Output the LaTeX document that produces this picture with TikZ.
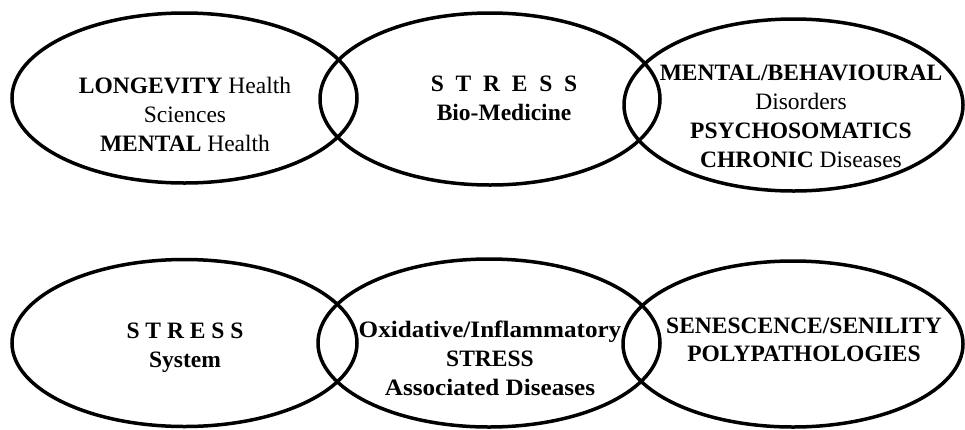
\documentclass[tikz,border=0pt]{standalone}
\usepackage{fontspec}
\setmainfont{Liberation Serif}
\usetikzlibrary{shapes.geometric}
\begin{document}
\begin{tikzpicture}[x=1pt,y=-1pt,
  oval/.style={draw, ellipse, line width=3.5pt, inner sep=0pt},
  lbl/.style={align=center, inner sep=0pt, font=\fontsize{23.5}{29}\selectfont}]
\useasboundingbox (0,0) rectangle (965,429);
% top row
\node[oval, minimum width=345pt, minimum height=170pt] (tl) at (184.5,98) {};
\node[oval, minimum width=340pt, minimum height=172pt] (tm) at (490,99) {};
\node[oval, minimum width=339pt, minimum height=172pt] (tr) at (793.5,105) {};
% bottom row
\node[oval, minimum width=345pt, minimum height=167pt] (bl) at (184.5,343) {};
\node[oval, minimum width=342pt, minimum height=168pt] (bm) at (489,343) {};
\node[oval, minimum width=340pt, minimum height=166pt] (br) at (793,344) {};
% texts
\node[lbl] (tltext) at (185,114) {\textbf{LONGEVITY} Health\\Sciences\\\textbf{MENTAL} Health};
\node[lbl] (tmtext) at (504,98) {\textbf{S\hspace{0.5em}T\hspace{0.5em}R\hspace{0.5em}E\hspace{0.5em}S\hspace{0.5em}S}\\\textbf{Bio-Medicine}};
\node[lbl] (trtext) at (801,116) {\textbf{MENTAL/BEHAVIOURAL}\\Disorders\\\textbf{PSYCHOSOMATICS}\\\textbf{CHRONIC} Diseases};
\node[lbl] (bltext) at (185,348) {\textbf{S T R E S S}\\\textbf{System}};
\node[lbl] (bmtext) at (490,358) {\scalebox{1.07}[1]{\textbf{Oxidative/Inflammatory}}\\\textbf{STRESS}\\\scalebox{1.07}[1]{\textbf{Associated Diseases}}};
\node[lbl, font=\fontsize{23.5}{28}\selectfont] (brtext) at (804,340) {\textbf{SENESCENCE/SENILITY}\\\textbf{POLYPATHOLOGIES}};
\end{tikzpicture}
\end{document}
